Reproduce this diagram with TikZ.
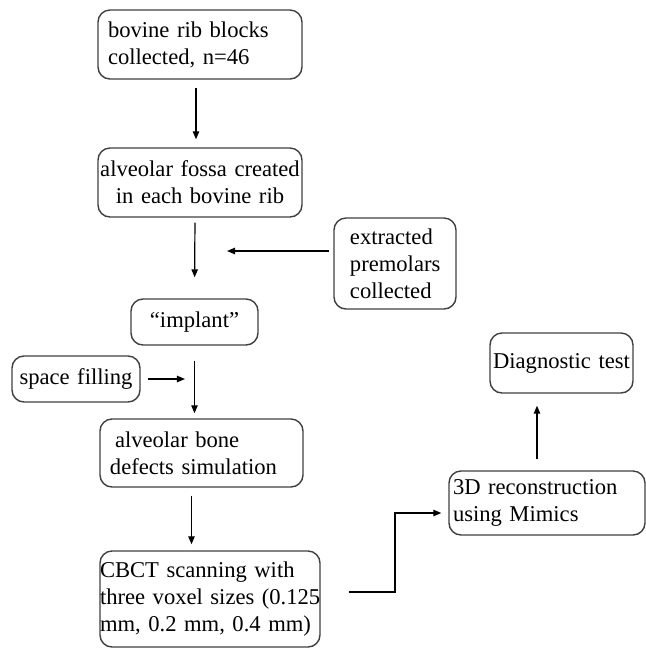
\documentclass[tikz,border=0pt]{standalone}
\usepackage{fontspec}
\setmainfont{Liberation Serif}
\usepackage{tikz}
\usetikzlibrary{arrows.meta,positioning,calc}

\begin{document}
\begin{tikzpicture}[x=0.5pt,y=-0.5pt,
  box/.style={draw=black!75,line width=0.7pt,rounded corners=6pt,inner ysep=0pt,
    font=\fontsize{11.3}{13.5}\selectfont},
  arr/.style={-{Triangle[length=4pt,width=3.2pt]},line width=0.6pt}]
\useasboundingbox (0,0) rectangle (646,650);

\node[box,align=left,text width=92pt,inner xsep=5pt,minimum height=34.5pt] (rib) at (200,44.5) {bovine rib blocks\\collected, n=46};
\node[box,align=center,text width=100pt,inner xsep=1pt,minimum height=34.5pt] (fossa) at (200,182.5) {alveolar fossa created\\in each bovine rib};
\node[box,align=left,text width=45pt,inner xsep=8pt,minimum height=45.5pt] (premolars) at (395,263.5) {extracted\\premolars\\collected};
\node[box,align=center,text width=61.5pt,inner xsep=1pt,minimum height=23pt] (implant) at (194.5,322) {``implant''};
\node[box,align=center,text width=62pt,inner xsep=1pt,minimum height=23pt] (filling) at (76,379) {space filling};
\node[box,align=left,text width=91.5pt,inner xsep=5pt,minimum height=34pt] (defects) at (201.5,453) {\hspace{2.5pt}alveolar bone\\defects simulation};
\node[box,align=left,text width=110pt,inner xsep=0pt,minimum height=48pt] (cbct) at (210,599) {\mbox{CBCT scanning with}\\\mbox{three voxel sizes (0.125}\\\mbox{mm, 0.2 mm, 0.4 mm)}};
\node[box,align=left,text width=94pt,inner xsep=2pt,minimum height=32pt] (recon) at (547,503) {3D reconstruction\\using Mimics};
\node[box,align=center,text width=70pt,inner xsep=0.75pt,minimum height=30pt] (diag) at (561.5,363) {Diagnostic test};

\coordinate (pm) at (227,251);
\coordinate (sf) at (185,379);
\coordinate (c1) at (349,592);

\draw[arr,shorten <=4pt,shorten >=4pt] ([xshift=-2pt]rib.south) -- ([xshift=-2pt]fossa.north);
\draw[arr,shorten <=2.5pt,shorten >=10.5pt] ([xshift=-2.5pt]fossa.south) -- (implant.north);
\draw[arr,shorten <=2pt] (premolars.west |- pm) -- (pm);
\draw[arr,shorten <=7.5pt,shorten >=2.5pt] (implant.south) -- (implant.south |- defects.north);
\draw[arr,shorten <=3.5pt] (filling.east) -- (sf);
\draw[arr,shorten <=4pt,shorten >=3pt] ([xshift=-5pt]defects.south) -- ([xshift=-5pt]defects.south |- cbct.north);
\draw[arr,shorten >=3.5pt] (c1) -- ++(46,0) |- ([yshift=-5pt]recon.west);
\draw[arr,shorten <=5.5pt,shorten >=6pt] ([xshift=-5pt]recon.north) -- ([xshift=-5pt]recon.north |- diag.south);
\end{tikzpicture}
\end{document}
